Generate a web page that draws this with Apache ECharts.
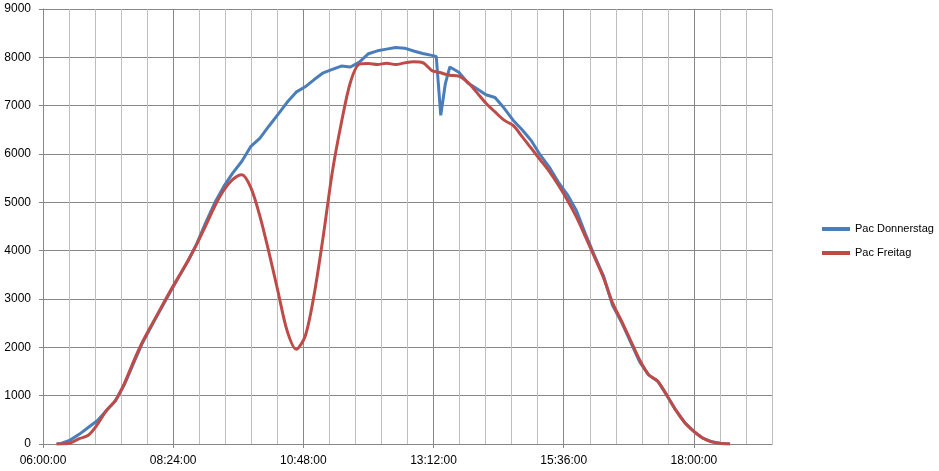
<!DOCTYPE html>
<html><head><meta charset="utf-8">
<script src="https://cdn.jsdelivr.net/npm/echarts@6/dist/echarts.min.js"></script>
<style>html,body{margin:0;padding:0;background:#fff}#c{width:939px;height:471px}</style>
</head><body><div id="c"></div>
<script>
const times = ["06:15","06:20","06:30","06:40","06:50","07:00","07:10","07:20","07:30","07:40","07:50","08:00","08:10","08:20","08:30","08:40","08:50","09:00","09:10","09:20","09:30","09:40","09:50","10:00","10:10","10:20","10:30","10:40","10:50","11:00","11:10","11:20","11:30","11:40","11:50","12:00","12:10","12:20","12:30","12:40","12:50","13:00","13:10","13:15","13:20","13:25","13:30","13:40","13:50","14:00","14:10","14:20","14:30","14:40","14:50","15:00","15:10","15:20","15:30","15:40","15:50","16:00","16:10","16:20","16:30","16:40","16:50","17:00","17:10","17:20","17:30","17:40","17:50","18:00","18:10","18:20","18:30","18:40"];
const pacDonnerstag = [0,10,80,200,340,480,690,890,1230,1660,2090,2440,2780,3120,3450,3770,4140,4580,4990,5330,5610,5850,6160,6330,6580,6820,7070,7280,7390,7540,7680,7750,7820,7800,7900,8075,8135,8170,8205,8190,8130,8080,8040,8020,6800,7450,7800,7690,7470,7350,7225,7170,6950,6700,6500,6280,5980,5730,5420,5160,4830,4350,3900,3480,2870,2520,2110,1700,1430,1300,1010,700,440,260,120,45,12,0];
const pacFreitag = [0,0,20,110,180,400,690,900,1250,1700,2110,2460,2800,3140,3460,3780,4130,4520,4920,5250,5475,5570,5300,4710,3960,3150,2345,1960,2230,3100,4300,5620,6640,7480,7860,7870,7850,7880,7850,7885,7910,7890,7730,7700,7680,7650,7630,7610,7480,7270,7050,6870,6700,6590,6360,6120,5880,5640,5360,5050,4700,4290,3870,3440,2920,2540,2140,1740,1430,1300,1010,700,440,260,120,45,12,0];
const seriesNames = ["Pac Donnerstag","Pac Freitag"];
const xTickLabels = ["06:00:00","08:24:00","10:48:00","13:12:00","15:36:00","18:00:00"];

const X0 = 360; // minutes at axis start (06:00)
const MINOR = 28.8, XMAX = 806.4;
function toMin(s){const p=s.split(':').map(Number);return p[0]*60+p[1]-X0;}
const majorVals = xTickLabels.map(l=>toMin(l.slice(0,5)));
const font = 'Liberation Sans';
const dark = '#878787', light = '#BEBEBE';

const chart = echarts.init(document.getElementById('c'));
chart.setOption({
  animation:false,
  backgroundColor:'#fff',
  textStyle:{fontFamily:font},
  grid:{left:43,top:9,right:167,bottom:27,containLabel:false},
  legend:{
    orient:'vertical', left:817, top:217, itemWidth:28, itemHeight:4, itemGap:10, icon:'rect',
    textStyle:{fontSize:11,color:'#000',fontFamily:font,lineHeight:14},
    data:seriesNames
  },
  xAxis:[{
    type:'value', min:0, max:XMAX, interval:MINOR, position:'bottom',
    axisLine:{show:true,lineStyle:{color:dark,width:1}},
    axisTick:{show:false},
    axisLabel:{show:false},
    splitLine:{show:true,lineStyle:{color:[dark,light,light,light,light],width:1}}
  },{
    type:'value', min:0, max:XMAX, position:'bottom',
    axisLine:{show:false},
    axisTick:{show:true,length:4,lineStyle:{color:dark},customValues:majorVals},
    axisLabel:{show:true,margin:11,fontSize:12,color:'#000',fontFamily:font,customValues:majorVals,
      formatter:v=>{const i=majorVals.findIndex(m=>Math.abs(m-v)<0.01);return i>=0?xTickLabels[i]:'';}},
    splitLine:{show:false}
  }],
  yAxis:{
    type:'value', min:0, max:9000, interval:1000,
    axisLine:{show:true,lineStyle:{color:dark,width:1}},
    axisTick:{show:true,length:4,lineStyle:{color:dark}},
    axisLabel:{margin:12,fontSize:12,color:'#000',fontFamily:font,formatter:v=>String(v)},
    splitLine:{show:true,lineStyle:{color:dark,width:1}}
  },
  series:[
    {name:seriesNames[0],type:'line',xAxisIndex:0,showSymbol:false,symbol:'none',
     lineStyle:{color:'#4A7EBB',width:3},itemStyle:{color:'#4A7EBB'},
     data:times.map((t,i)=>[toMin(t),pacDonnerstag[i]])},
    {name:seriesNames[1],type:'line',xAxisIndex:0,showSymbol:false,symbol:'none',smooth:0.3,
     lineStyle:{color:'#BE4B48',width:3},itemStyle:{color:'#BE4B48'},
     data:times.map((t,i)=>[toMin(t),pacFreitag[i]])}
  ]
});
</script></body></html>
